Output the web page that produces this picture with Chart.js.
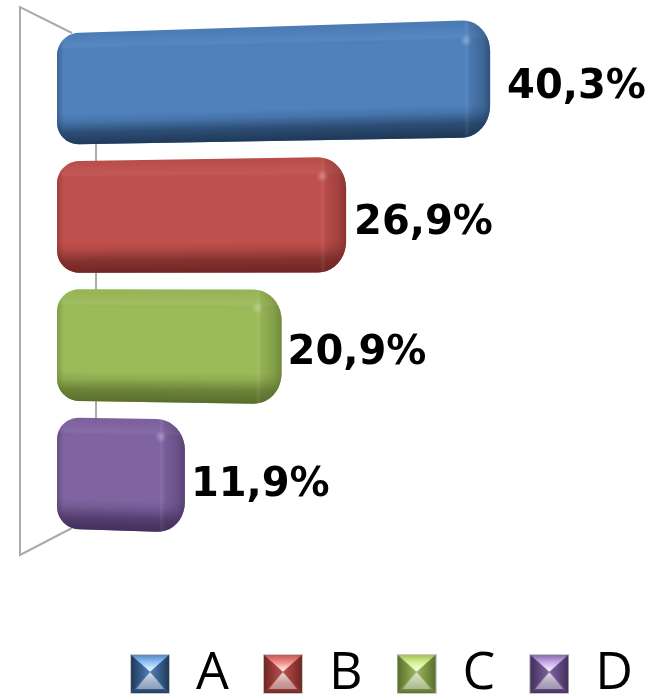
<!DOCTYPE html>
<html><head><meta charset="utf-8">
<style>html,body{margin:0;padding:0;background:#fff}canvas{display:block}</style>
<script src="https://cdn.jsdelivr.net/npm/chart.js@4"></script>
</head><body><canvas id="c" width="661" height="695"></canvas>
<script>
const categories = ['A','B','C','D'];
const values = [40.3,26.9,20.9,11.9];
const valueLabels = ['40,3%','26,9%','20,9%','11,9%'];
const baseColors = ['#4f81bd','#c0504d','#9bbb59','#8064a2'];
const lightColors = ['#8fc0f5','#f08a85','#d4f08a','#c4a8e8'];
const darkColors = ['#1d3654','#6b2422','#566a2a','#3f2d57'];

function bevelIcon(i){
  const s=40,c=document.createElement('canvas');c.width=s;c.height=s;
  const g=c.getContext('2d');
  const tri=(p,f)=>{g.beginPath();g.moveTo(p[0],p[1]);g.lineTo(p[2],p[3]);g.lineTo(p[4],p[5]);g.closePath();g.fillStyle=f;g.fill();};
  g.fillStyle=baseColors[i];g.fillRect(0,0,s,s);
  const m=s/2,cy=18;
  let t=g.createLinearGradient(0,0,0,cy);t.addColorStop(0,baseColors[i]);t.addColorStop(.45,lightColors[i]);t.addColorStop(1,'#ffffff');
  tri([0,0,s,0,m,cy],t);
  let b=g.createLinearGradient(0,cy,0,s);b.addColorStop(0,'#e8e8e8');b.addColorStop(.5,baseColors[i]);b.addColorStop(1,darkColors[i]);
  tri([0,s,s,s,m,cy],b);
  g.globalAlpha=.55;
  tri([m,cy,m-14,s-5,m+14,s-5],'#d8d8d8');
  g.globalAlpha=1;
  let l=g.createLinearGradient(0,0,m,0);l.addColorStop(0,darkColors[i]);l.addColorStop(1,baseColors[i]);
  tri([0,0,0,s,m,cy],l);
  let r=g.createLinearGradient(s,0,m,0);r.addColorStop(0,darkColors[i]);r.addColorStop(1,baseColors[i]);
  tri([s,0,s,s,m,cy],r);
  g.strokeStyle='#c9c9c9';g.lineWidth=1;g.strokeRect(.5,.5,s-1,s-1);
  return c;
}
const icons = categories.map((_,i)=>bevelIcon(i));

const K=0.055;
const bars3d = {
  id:'bars3d',
  beforeDatasetsDraw(chart){
    const a=chart.chartArea,g=chart.ctx;
    g.save();g.strokeStyle='#ababab';g.lineWidth=2;
    g.beginPath();
    g.moveTo(a.left+15,a.top+8);g.lineTo(a.left-37,a.top-18);g.lineTo(a.left-37,a.bottom+18);g.lineTo(a.left+15,a.bottom-9);
    g.moveTo(a.left+39,a.top+110);g.lineTo(a.left+39,a.bottom-100);
    g.stroke();g.restore();
  },
  beforeDatasetDraw(chart,args){
    const g=chart.ctx,meta=args.meta,a=chart.chartArea;
    const x0=a.left,full=chart.scales.x.getPixelForValue(values[0])-x0;
    const yc=(a.top+a.bottom)/2;
    const map=(x,y)=>[x,yc+(y-yc)*(1+K*(x-x0)/full)];
    meta.data.forEach((el,i)=>{
      const p=el.getProps(['x','y','base','height'],true);
      const L=p.base,R=p.x,T=p.y-p.height/2,B=p.y+p.height/2;
      const rL=22,rRx=Math.min(28,(R-L)/3),rRy=30;
      const pts=[];
      const arc=(cx,cy,rx,ry,s,e)=>{for(let k=0;k<=10;k++){const an=s+(e-s)*k/10;pts.push(map(cx+rx*Math.cos(an),cy+ry*Math.sin(an)));}};
      arc(L+rL,T+rL,rL,rL,Math.PI,1.5*Math.PI);
      arc(R-rRx,T+rRy,rRx,rRy,1.5*Math.PI,2*Math.PI);
      arc(R-rRx,B-rRy,rRx,rRy,0,.5*Math.PI);
      arc(L+rL,B-rL,rL,rL,.5*Math.PI,Math.PI);
      g.save();
      g.beginPath();pts.forEach((q,n)=>n?g.lineTo(q[0],q[1]):g.moveTo(q[0],q[1]));g.closePath();
      g.fillStyle=baseColors[i];g.fill();g.clip();
      const s=(p.y-yc)*K/full;
      g.transform(1,s,0,1,0,-s*x0);
      const W=R-L,H=B-T;
      let gr;
      // top bevel
      gr=g.createLinearGradient(0,T,0,T+18);
      gr.addColorStop(0,'rgba(0,0,0,.04)');gr.addColorStop(.75,'rgba(255,255,255,.05)');gr.addColorStop(1,'rgba(0,0,0,.02)');
      g.fillStyle=gr;g.fillRect(L-5,T-20,W+10,38);
      // bottom bevel
      gr=g.createLinearGradient(0,B-30,0,B+1);
      gr.addColorStop(0,darkColors[i]+'00');gr.addColorStop(.25,darkColors[i]+'30');gr.addColorStop(.6,darkColors[i]+'b0');gr.addColorStop(1,darkColors[i]+'f5');
      g.fillStyle=gr;g.fillRect(L-5,B-30,W+10,50);
      // left edge
      gr=g.createLinearGradient(L,0,L+7,0);
      gr.addColorStop(0,darkColors[i]+'60');gr.addColorStop(1,darkColors[i]+'00');
      g.fillStyle=gr;g.fillRect(L-5,T-20,12,H+40);
      // right bevel
      const rb=R-22;
      gr=g.createLinearGradient(rb-3,0,R,0);
      gr.addColorStop(0,'rgba(255,255,255,.05)');gr.addColorStop(.2,darkColors[i]+'20');gr.addColorStop(.7,darkColors[i]+'58');gr.addColorStop(1,darkColors[i]+'a0');
      g.fillStyle=gr;g.fillRect(rb-3,T-20,R-rb+8,H+40);
      // corner highlight
      gr=g.createRadialGradient(rb-2,T+17,0,rb-2,T+17,6);
      gr.addColorStop(0,'rgba(255,255,255,.3)');gr.addColorStop(1,'rgba(255,255,255,0)');
      g.fillStyle=gr;g.fillRect(rb-10,T+9,16,16);
      g.restore();
    });
    return false;
  },
  afterDatasetsDraw(chart){
    const g=chart.ctx,meta=chart.getDatasetMeta(0);
    const nudge=[17,8,6,6],dy=[-1,7,9,13];
    g.save();g.font='bold 40px "DejaVu Sans"';g.fillStyle='#000';g.textBaseline='middle';g.textAlign='left';
    meta.data.forEach((el,i)=>g.fillText(valueLabels[i],el.x+nudge[i],el.y+dy[i]));
    g.restore();
  }
};

new Chart(document.getElementById('c'),{
  type:'bar',
  data:{labels:categories,datasets:[{data:values,backgroundColor:baseColors,barPercentage:.87,categoryPercentage:1}]},
  options:{
    indexAxis:'y',responsive:false,animation:false,
    layout:{padding:{left:57,right:-6,top:25,bottom:-15}},
    scales:{
      x:{display:true,min:0,max:56.2,grid:{display:false},border:{display:false},ticks:{display:false},afterFit(a){a.height=77;}},
      y:{display:false}
    },
    plugins:{
      tooltip:{enabled:false},
      legend:{display:true,position:'bottom',align:'end',
        labels:{
          usePointStyle:true,boxWidth:40,boxHeight:40,padding:34,color:'#000',
          font:{family:'"Open Sans"',size:52},
          generateLabels:()=>categories.map((c,i)=>({text:c,pointStyle:icons[i],fillStyle:baseColors[i],strokeStyle:baseColors[i],lineWidth:0,hidden:false,index:i,datasetIndex:0}))
        }
      }
    }
  },
  plugins:[bars3d]
});
</script></body></html>
